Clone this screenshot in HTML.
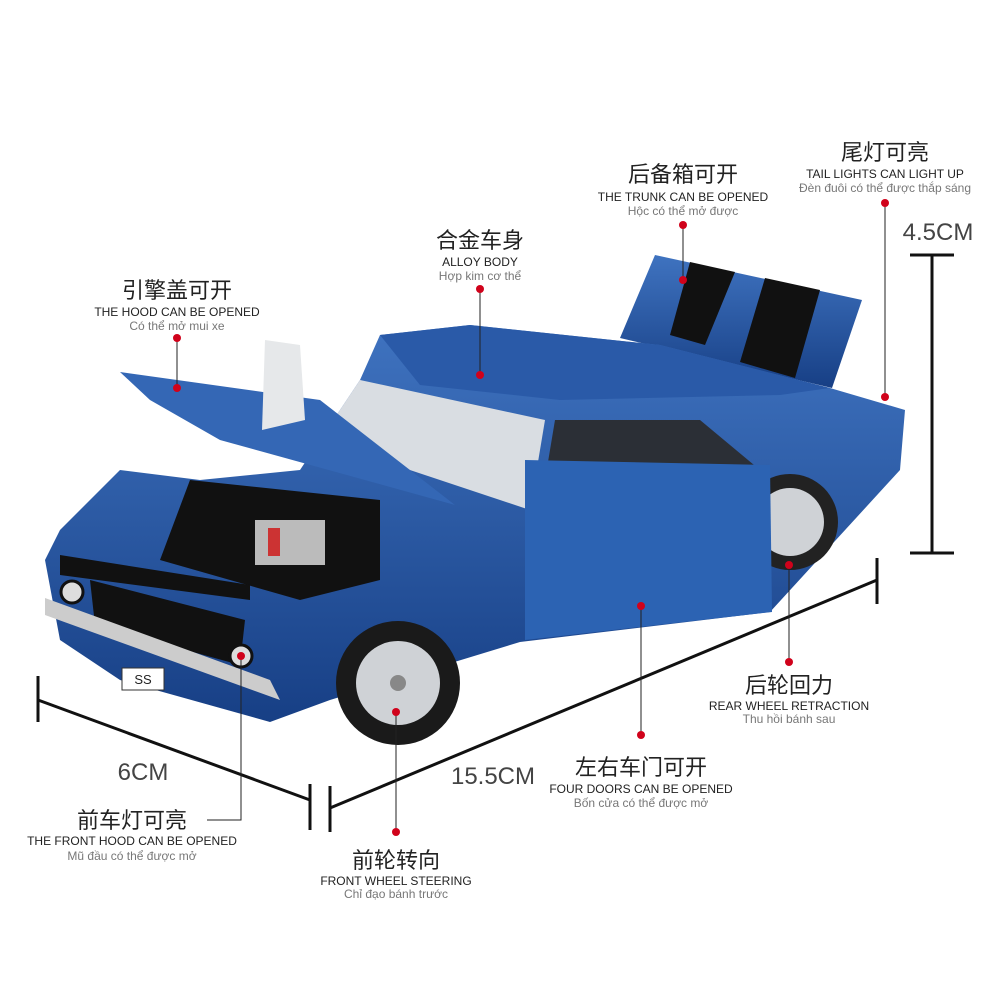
<!DOCTYPE html>
<html><head><meta charset="utf-8"><style>
html,body{margin:0;padding:0;background:#fff;}
svg{display:block}
.cn{font-family:"Liberation Sans","Noto Sans CJK SC",sans-serif;font-size:22px;fill:#222;text-anchor:middle}
.en{font-family:"Liberation Sans",sans-serif;font-size:12px;fill:#222;text-anchor:middle}
.vn{font-family:"Liberation Sans","DejaVu Sans",sans-serif;font-size:12px;fill:#777;text-anchor:middle}
.dim{font-family:"Liberation Sans",sans-serif;font-size:24px;fill:#444;text-anchor:middle}
</style></head><body>
<svg width="1000" height="1000" viewBox="0 0 1000 1000" xmlns="http://www.w3.org/2000/svg">
<defs>
<linearGradient id="b" x1="0" y1="0" x2="0" y2="1"><stop offset="0" stop-color="#3f73c0"/><stop offset="1" stop-color="#173f85"/></linearGradient>
</defs>
<!-- trunk lid -->
<polygon points="655,255 862,300 832,388 620,338" fill="url(#b)"/>
<polygon points="690,262 735,272 705,345 670,335" fill="#111"/>
<polygon points="765,278 820,290 795,378 740,362" fill="#111"/>
<!-- body -->
<polygon points="45,560 60,640 120,680 270,722 330,700 520,642 770,612 900,470 905,410 830,388 660,345 470,325 380,335 360,380 300,470 200,480 120,470 60,530" fill="url(#b)"/>
<polygon points="380,335 470,325 660,345 830,388 780,395 560,400 420,385" fill="#2a5aa8"/>
<!-- rear wheel -->
<circle cx="790" cy="522" r="48" fill="#222"/><circle cx="790" cy="522" r="34" fill="#cfd2d6"/>
<!-- windows -->
<polygon points="360,380 545,420 530,510 320,440" fill="#d9dde2"/>
<polygon points="555,420 700,420 760,470 540,510" fill="#2b2f36"/>
<!-- door open -->
<polygon points="525,460 770,465 772,612 525,640" fill="#2c63b3"/>
<!-- hood panel open -->
<polygon points="120,372 320,400 455,505 220,440 150,400" fill="#3467b5"/>
<polygon points="265,340 300,345 305,420 262,430" fill="#e6e8ea"/>
<!-- engine -->
<polygon points="190,480 380,500 380,580 300,600 160,560" fill="#111"/>
<rect x="255" y="520" width="70" height="45" fill="#bbb"/>
<rect x="268" y="528" width="12" height="28" fill="#c33"/>
<!-- grille / stripes -->
<polygon points="90,580 245,620 240,665 95,625" fill="#111"/>
<polygon points="60,555 250,585 250,600 60,575" fill="#111"/>
<polygon points="45,598 270,680 280,700 45,615" fill="#ccc"/>
<rect x="122" y="668" width="42" height="22" fill="#fff" stroke="#333"/>
<text x="143" y="684" class="en" style="font-size:13px">SS</text>
<circle cx="72" cy="592" r="11" fill="#ddd" stroke="#111" stroke-width="3"/>
<circle cx="241" cy="656" r="11" fill="#ddd" stroke="#111" stroke-width="3"/>
<!-- front wheel -->
<circle cx="398" cy="683" r="62" fill="#1a1a1a"/><circle cx="398" cy="683" r="42" fill="#cfd2d6"/><circle cx="398" cy="683" r="8" fill="#888"/>
<!-- dimension lines -->
<g stroke="#111" stroke-width="3" fill="none">
<line x1="932" y1="255" x2="932" y2="553"/><line x1="910" y1="255" x2="954" y2="255"/><line x1="910" y1="553" x2="954" y2="553"/>
<line x1="330" y1="808" x2="877" y2="580"/><line x1="330" y1="786" x2="330" y2="832"/><line x1="877" y1="558" x2="877" y2="604"/>
<line x1="38" y1="700" x2="310" y2="800"/><line x1="38" y1="676" x2="38" y2="722"/><line x1="310" y1="784" x2="310" y2="830"/>
</g>
<text x="938" y="240" class="dim">4.5CM</text>
<text x="493" y="784" class="dim">15.5CM</text>
<text x="143" y="780" class="dim">6CM</text>
<!-- callout lines -->
<g stroke="#222" stroke-width="1" fill="none">
<line x1="177" y1="338" x2="177" y2="388"/>
<line x1="480" y1="289" x2="480" y2="375"/>
<line x1="683" y1="225" x2="683" y2="280"/>
<line x1="885" y1="203" x2="885" y2="397"/>
<line x1="789" y1="565" x2="789" y2="662"/>
<line x1="641" y1="606" x2="641" y2="735"/>
<polyline points="241,656 241,820 207,820"/>
<line x1="396" y1="712" x2="396" y2="832"/>
</g>
<g fill="#d0021b">
<circle cx="177" cy="338" r="4"/><circle cx="177" cy="388" r="4"/>
<circle cx="480" cy="289" r="4"/><circle cx="480" cy="375" r="4"/>
<circle cx="683" cy="225" r="4"/><circle cx="683" cy="280" r="4"/>
<circle cx="885" cy="203" r="4"/><circle cx="885" cy="397" r="4"/>
<circle cx="789" cy="565" r="4"/><circle cx="789" cy="662" r="4"/>
<circle cx="641" cy="606" r="4"/><circle cx="641" cy="735" r="4"/>
<circle cx="241" cy="656" r="4"/>
<circle cx="396" cy="712" r="4"/><circle cx="396" cy="832" r="4"/>
</g>
<!-- labels -->
<text x="177" y="298" class="cn">引擎盖可开</text><text x="177" y="316" class="en">THE HOOD CAN BE OPENED</text><text x="177" y="330" class="vn">Có thể mở mui xe</text>
<text x="480" y="248" class="cn">合金车身</text><text x="480" y="266" class="en">ALLOY BODY</text><text x="480" y="280" class="vn">Hợp kim cơ thể</text>
<text x="683" y="182" class="cn">后备箱可开</text><text x="683" y="201" class="en">THE TRUNK CAN BE OPENED</text><text x="683" y="215" class="vn">Hộc có thể mở được</text>
<text x="885" y="160" class="cn">尾灯可亮</text><text x="885" y="178" class="en">TAIL LIGHTS CAN LIGHT UP</text><text x="885" y="192" class="vn">Đèn đuôi có thể được thắp sáng</text>
<text x="789" y="693" class="cn">后轮回力</text><text x="789" y="710" class="en">REAR WHEEL RETRACTION</text><text x="789" y="723" class="vn">Thu hồi bánh sau</text>
<text x="641" y="775" class="cn">左右车门可开</text><text x="641" y="793" class="en">FOUR DOORS CAN BE OPENED</text><text x="641" y="807" class="vn">Bốn cửa có thể được mở</text>
<text x="132" y="828" class="cn">前车灯可亮</text><text x="132" y="845" class="en">THE FRONT HOOD CAN BE OPENED</text><text x="132" y="860" class="vn">Mũ đầu có thể được mở</text>
<text x="396" y="868" class="cn">前轮转向</text><text x="396" y="885" class="en">FRONT WHEEL STEERING</text><text x="396" y="898" class="vn">Chỉ đạo bánh trước</text>
</svg>
</body></html>
